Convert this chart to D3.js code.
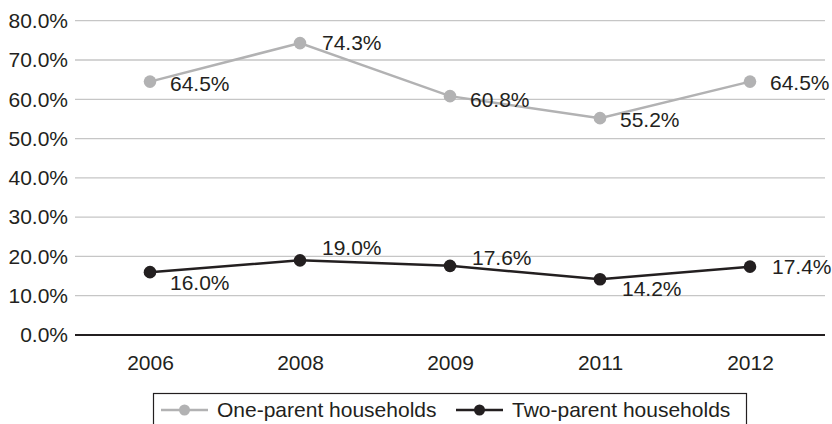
<!DOCTYPE html>
<html><head><meta charset="utf-8">
<script src="https://cdn.jsdelivr.net/npm/d3@7"></script>
<style>body{margin:0;background:#fff}svg{display:block}text{font-family:"Liberation Sans",Arial,sans-serif;fill:#231f20}</style>
</head><body><svg id="c" width="832" height="424"></svg>
<script>
const years = ["2006","2008","2009","2011","2012"];
const oneParent = [64.5, 74.3, 60.8, 55.2, 64.5];
const twoParent = [16.0, 19.0, 17.6, 14.2, 17.4];
const yTicks = [0,10,20,30,40,50,60,70,80];
const seriesNames = ["One-parent households","Two-parent households"];
// label offsets (dx, dy) relative to each point
const oneOffsets = [[20,2],[22,0],[20,4],[20,2],[20,1]];
const twoOffsets = [[20,11],[22,-13],[22,-8],[22,9],[22,0]];

const svg = d3.select("#c");
const x = d3.scalePoint().domain(years).range([75,825]).padding(0.5);
const y = d3.scaleLinear().domain([0,80]).range([335,20.7]);
const fs = 21;

// gridlines
svg.append("g").selectAll("line").data(yTicks.filter(d=>d>0)).join("line")
  .attr("x1",75).attr("x2",825).attr("y1",d=>y(d)).attr("y2",d=>y(d))
  .attr("stroke","#c6c6c6").attr("stroke-width",1.3);

// y axis labels
const yAxis = d3.axisLeft(y).tickValues(yTicks).tickSize(0).tickPadding(7).tickFormat(d=>d.toFixed(1)+"%");
const ga = svg.append("g").attr("transform","translate(75,0)").call(yAxis);
ga.select(".domain").remove();
ga.selectAll("text").style("font-size",fs+"px").attr("fill","#231f20").attr("font-family",null);

// x axis
const xAxis = d3.axisBottom(x).tickSize(0).tickPadding(20);
const gx = svg.append("g").attr("transform","translate(0,335)").call(xAxis);
gx.select(".domain").attr("d","M75,0H825").attr("stroke","#231f20").attr("stroke-width",2);
gx.selectAll("text").style("font-size",fs+"px").attr("fill","#231f20").attr("font-family",null);

function drawSeries(vals, color, offsets){
  const line = d3.line().x((d,i)=>x(years[i])).y(d=>y(d));
  svg.append("path").datum(vals).attr("d",line).attr("fill","none")
    .attr("stroke",color).attr("stroke-width",2.5);
  svg.append("g").selectAll("circle").data(vals).join("circle")
    .attr("cx",(d,i)=>x(years[i])).attr("cy",d=>y(d)).attr("r",6.3).attr("fill",color);
  svg.append("g").selectAll("text").data(vals).join("text")
    .attr("x",(d,i)=>x(years[i])+offsets[i][0]).attr("y",(d,i)=>y(d)+offsets[i][1])
    .attr("dy","0.35em").style("font-size",fs+"px").text(d=>d.toFixed(1)+"%");
}
drawSeries(oneParent, "#b2b2b3", oneOffsets);
drawSeries(twoParent, "#231f20", twoOffsets);

// legend
const lg = svg.append("g");
lg.append("rect").attr("x",153.5).attr("y",393.5).attr("width",593).attr("height",40)
  .attr("fill","#fff").attr("stroke","#231f20").attr("stroke-width",1.2);
const legItems = [
  {name:seriesNames[0], color:"#b2b2b3", x0:161},
  {name:seriesNames[1], color:"#231f20", x0:456}
];
legItems.forEach(it=>{
  const g = lg.append("g").attr("transform",`translate(${it.x0},410)`);
  g.append("line").attr("x1",0).attr("x2",47).attr("stroke",it.color).attr("stroke-width",2.5);
  g.append("circle").attr("cx",23.5).attr("r",5.5).attr("fill",it.color);
  g.append("text").attr("x",56).attr("dy","0.35em").style("font-size",fs+"px").text(it.name);
});
</script></body></html>
